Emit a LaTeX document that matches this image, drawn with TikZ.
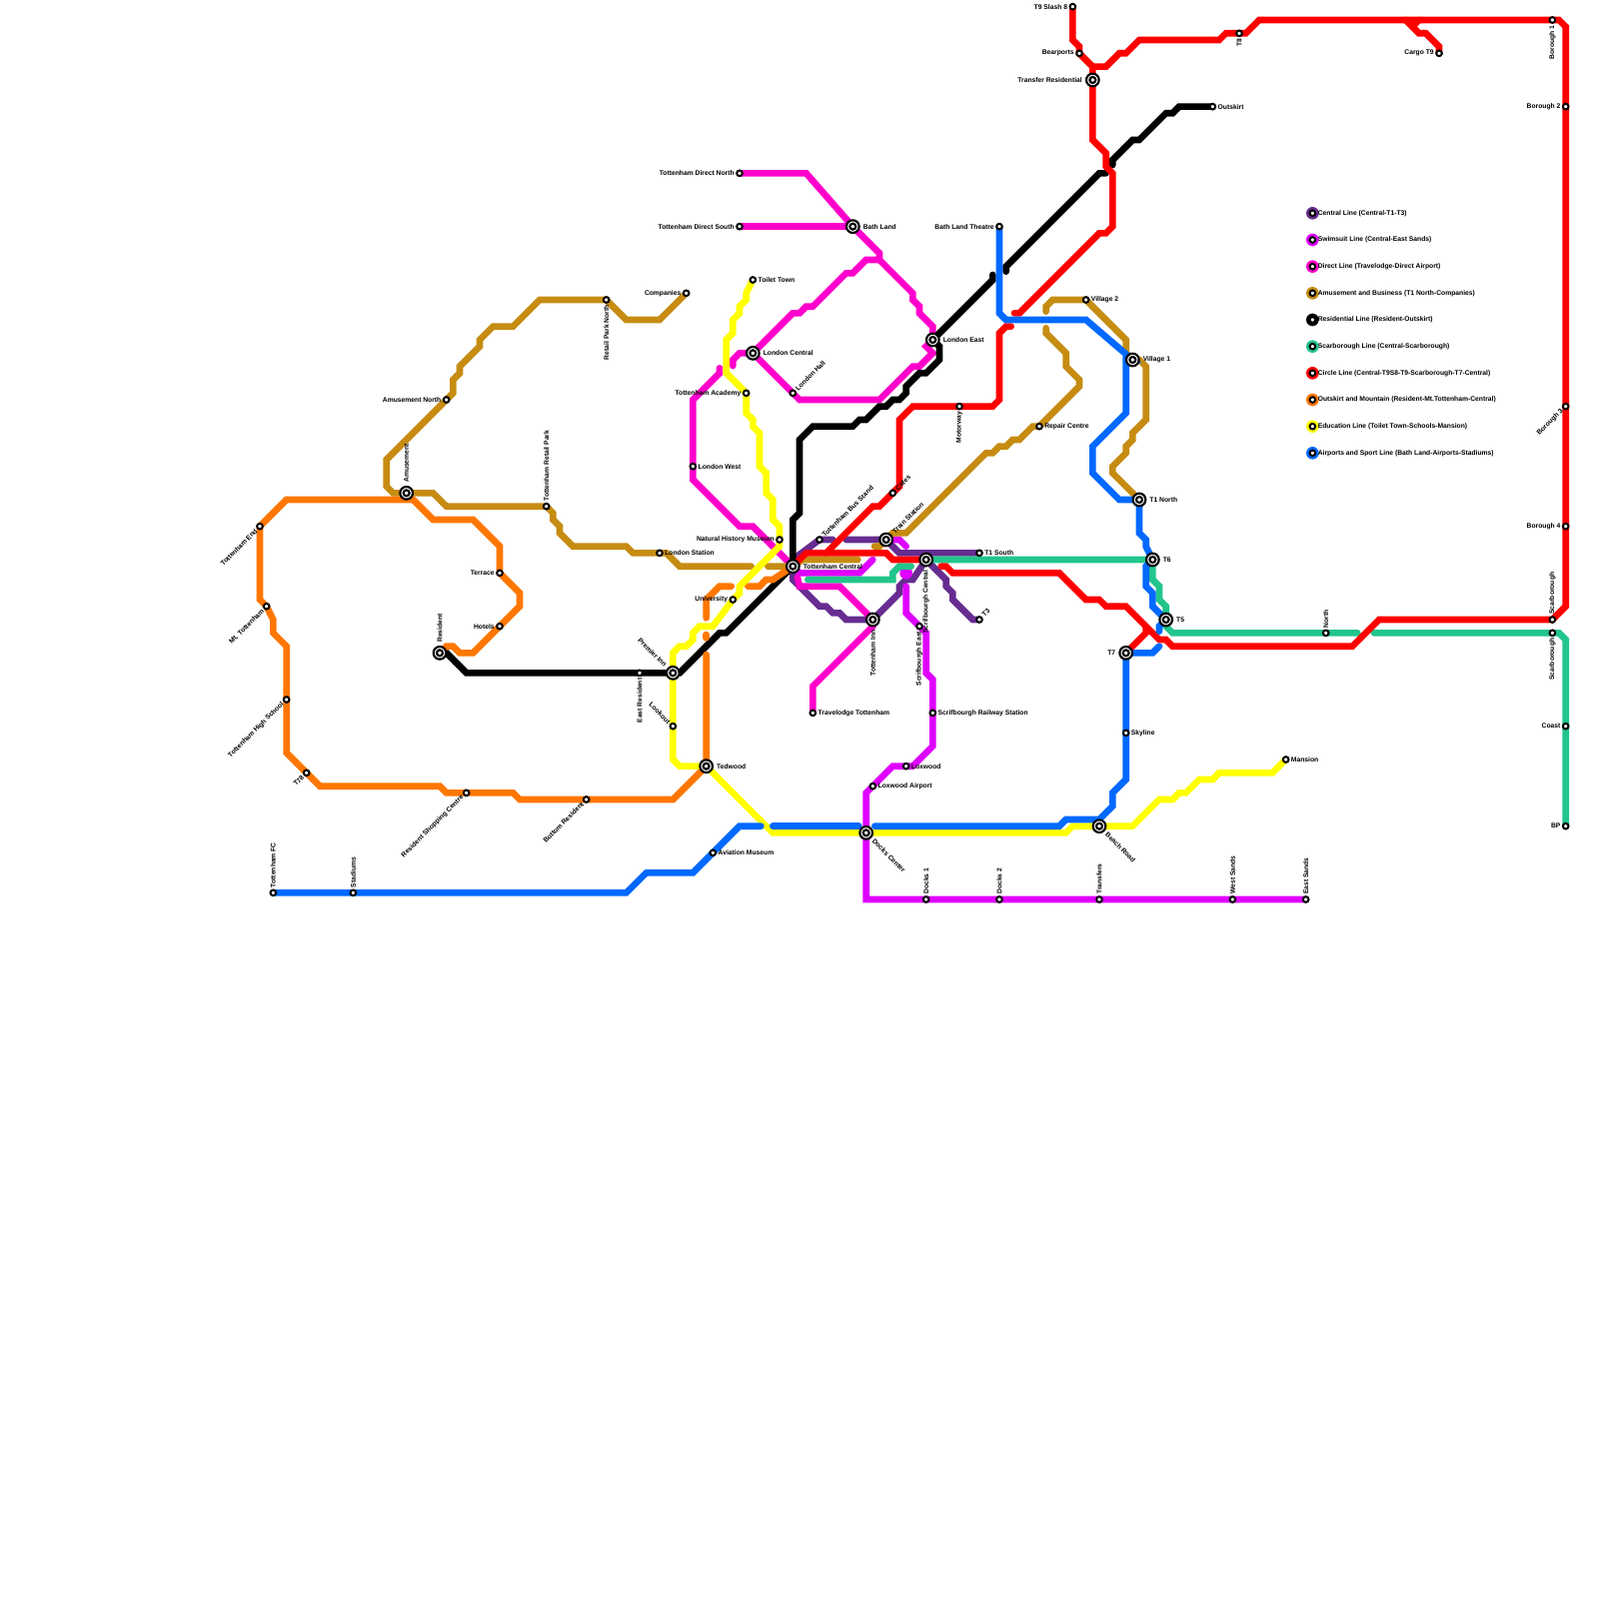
\documentclass[tikz,border=0pt]{standalone}
\usepackage{fontspec}
\setmainfont{Liberation Sans}
\usetikzlibrary{backgrounds}
\definecolor{mcentral}{HTML}{662C90}
\definecolor{mswim}{HTML}{DF00FF}
\definecolor{mdirect}{HTML}{FF00CC}
\definecolor{mgold}{HTML}{C68C12}
\definecolor{mgreen}{HTML}{22C58B}
\definecolor{mred}{HTML}{FF0000}
\definecolor{morange}{HTML}{FF7700}
\definecolor{myellow}{HTML}{FFFF00}
\definecolor{mblue}{HTML}{0069FF}
\tikzset{
  metro/line/.style={line width=1mm, line cap=round, line join=miter},
  metro/txt/.style={font=\fontsize{2.88}{3.4}\selectfont\bfseries, inner sep=0pt},
  metro/stop/.style={circle, draw=black, fill=white, line width=0.3mm, minimum size=0.85mm, inner sep=0pt, outer sep=0.3mm},
  metro/hub/.style={circle, draw=black, fill=white, line width=0.32mm, minimum size=1.9mm, inner sep=0pt, outer sep=0.55mm,
    path picture={\draw[line width=0.32mm] (path picture bounding box.center) circle (0.45mm);}},
  metro/key/.style={circle, fill=#1, minimum size=1.9mm, inner sep=0pt, outer sep=-0.2mm,
    path picture={\draw[line width=0.3mm, fill=white] (path picture bounding box.center) circle (0.42mm);}},
  metro/r/.style={label={[metro/txt, anchor=west]0:#1}},
  metro/l/.style={label={[metro/txt, anchor=east]180:#1}},
  metro/u/.style={label={[metro/txt, rotate=90, anchor=west]90:#1}},
  metro/d/.style={label={[metro/txt, rotate=90, anchor=east]270:#1}},
  metro/ne/.style={label={[metro/txt, rotate=45, anchor=west]45:#1}},
  metro/sw/.style={label={[metro/txt, rotate=45, anchor=east]225:#1}},
  metro/nw/.style={label={[metro/txt, rotate=-45, anchor=east]135:#1}},
  metro/se/.style={label={[metro/txt, rotate=-45, anchor=west]315:#1}},
  metro/central/.style={metro/line, draw=mcentral},
  metro/swim/.style={metro/line, draw=mswim},
  metro/direct/.style={metro/line, draw=mdirect},
  metro/gold/.style={metro/line, draw=mgold},
  metro/resid/.style={metro/line, draw=black},
  metro/green/.style={metro/line, draw=mgreen},
  metro/red/.style={metro/line, draw=mred},
  metro/orange/.style={metro/line, draw=morange},
  metro/yellow/.style={metro/line, draw=myellow},
  metro/blue/.style={metro/line, draw=mblue}
}
\begin{document}
\begin{tikzpicture}[x=1mm, y=-1mm]
\useasboundingbox (0,0) rectangle (240,240);

\node[metro/hub, metro/r=Tottenham Central] (central) at (119,85) {};
\node[metro/stop, metro/ne=Tottenham Bus Stand] (busstand) at (123,81) {};
\node[metro/hub, metro/ne=Train Station] (train) at (133,81) {};
\node[metro/hub, metro/d=Scrifbourgh Central] (scrifcentral) at (139,84) {};
\node[metro/stop, metro/r=T1 South] (tonesouth) at (147,83) {};
\node[metro/stop, metro/ne=T3] (tthree) at (147,93) {};
\node[metro/hub, metro/d=Tottenham Inn] (tottinn) at (131,93) {};
\node[metro/stop, metro/d=Scrifbourgh East] (scrifeast) at (138,94) {};
\node[metro/stop, metro/r=Scrifbourgh Railway Station] (scrifrail) at (140,107) {};
\node[metro/stop, metro/r=Travelodge Tottenham] (travelodge) at (122,107) {};
\node[metro/stop, metro/r=Loxwood] (loxwood) at (136,115) {};
\node[metro/stop, metro/r=Loxwood Airport] (loxair) at (131,118) {};
\node[metro/hub, metro/r=Tedwood] (tedwood) at (106,115) {};
\node[metro/hub, metro/nw=Premier Inn] (premier) at (101,101) {};
\node[metro/stop, metro/d=East Resident] (eastres) at (96,101) {};
\node[metro/stop, metro/nw=Lookout] (lookout) at (101,109) {};
\node[metro/stop, metro/l=University] (university) at (110,90) {};
\node[metro/stop, metro/l=Natural History Museum] (nhm) at (117,81) {};
\node[metro/stop, metro/r=London Station] (londonst) at (99,83) {};
\node[metro/stop, metro/r=London West] (londonwest) at (104,70) {};
\node[metro/stop, metro/ne=Cafes] (cafes) at (134,74) {};
\node[metro/stop, metro/l=Tottenham Direct North] (dirnorth) at (111,26) {};
\node[metro/stop, metro/l=Tottenham Direct South] (dirsouth) at (111,34) {};
\node[metro/hub, metro/r=Bath Land] (bathland) at (128,34) {};
\node[metro/stop, metro/r=Toilet Town] (toilet) at (113,42) {};
\node[metro/stop, metro/l=Companies] (companies) at (103,44) {};
\node[metro/hub, metro/r=London Central] (londoncen) at (113,53) {};
\node[metro/hub, metro/r=London East] (londoneast) at (140,51) {};
\node[metro/stop, metro/ne=London Hall] (londonhall) at (119,59) {};
\node[metro/stop, metro/l=Tottenham Academy] (academy) at (112,59) {};
\node[metro/stop, metro/d=Motorway] (motorway) at (144,61) {};
\node[metro/stop, metro/l=Bath Land Theatre] (theatre) at (150,34) {};
\node[metro/stop, metro/l=T9 Slash 8] (tnine) at (161,1) {};
\node[metro/stop, metro/l=Bearports] (bearports) at (162,8) {};
\node[metro/hub, metro/l=Transfer Residential] (transfer) at (164,12) {};
\node[metro/stop, metro/d=T8] (teight) at (186,5) {};
\node[metro/stop, metro/r=Outskirt] (outskirt) at (182,16) {};
\node[metro/stop, metro/r=Village 2] (villagetwo) at (163,45) {};
\node[metro/hub, metro/r=Village 1] (villageone) at (170,54) {};
\node[metro/stop, metro/r=Repair Centre] (repair) at (156,64) {};
\node[metro/hub, metro/r=T1 North] (tonenorth) at (171,75) {};
\node[metro/hub, metro/r=T6] (tsix) at (173,84) {};
\node[metro/hub, metro/r=T5] (tfive) at (175,93) {};
\node[metro/hub, metro/l=T7] (tseven) at (169,98) {};
\node[metro/stop, metro/d=Retail Park North] (parknorth) at (91,45) {};
\node[metro/stop, metro/l=Amusement North] (amusenorth) at (67,60) {};
\node[metro/hub, metro/u=Amusement] (amusement) at (61,74) {};
\node[metro/stop, metro/u=Tottenham Retail Park] (retailpark) at (82,76) {};
\node[metro/stop, metro/sw=Tottenham End] (tottend) at (39,79) {};
\node[metro/stop, metro/sw=Mt. Tottenham] (mttott) at (40,91) {};
\node[metro/stop, metro/l=Terrace] (terrace) at (75,86) {};
\node[metro/stop, metro/l=Hotels] (hotels) at (75,94) {};
\node[metro/hub, metro/u=Resident] (resident) at (66,98) {};
\node[metro/stop, metro/sw=Tottenham High School] (highschool) at (43,105) {};
\node[metro/stop, metro/sw=T78] (tseventy) at (46,116) {};
\node[metro/stop, metro/sw=Resident Shopping Centre] (shopping) at (70,119) {};
\node[metro/stop, metro/sw=Bottom Resident] (bottomres) at (88,120) {};
\node[metro/stop, metro/u=Tottenham FC] (tottfc) at (41,134) {};
\node[metro/stop, metro/u=Stadiums] (stadiums) at (53,134) {};
\node[metro/stop, metro/r=Aviation Museum] (aviation) at (107,128) {};
\node[metro/hub, metro/se=Docks Center] (docks) at (130,125) {};
\node[metro/hub, metro/se=Beach Road] (beach) at (165,124) {};
\node[metro/stop, metro/u=Docks 1] (docksone) at (139,135) {};
\node[metro/stop, metro/u=Docks 2] (dockstwo) at (150,135) {};
\node[metro/stop, metro/u=Transfers] (transfers) at (165,135) {};
\node[metro/stop, metro/u=West Sands] (westsands) at (185,135) {};
\node[metro/stop, metro/u=East Sands] (eastsands) at (196,135) {};
\node[metro/stop, metro/r=Skyline] (skyline) at (169,110) {};
\node[metro/stop, metro/r=Mansion] (mansion) at (193,114) {};
\node[metro/stop, metro/l=Cargo T9] (cargo) at (216,8) {};
\node[metro/stop, metro/d=Borough 1] (boroughone) at (233,3) {};
\node[metro/stop, metro/l=Borough 2] (boroughtwo) at (235,16) {};
\node[metro/stop, metro/sw=Borough 3] (boroughthree) at (235,61) {};
\node[metro/stop, metro/l=Borough 4] (boroughfour) at (235,79) {};
\node[metro/stop, metro/u=Scarborough] (scarbup) at (233,93) {};
\node[metro/stop, metro/d=Scarborough] (scarbdown) at (233,95) {};
\node[metro/stop, metro/u=North] (north) at (199,95) {};
\node[metro/stop, metro/l=Coast] (coast) at (235,109) {};
\node[metro/stop, metro/l=BP] (bp) at (235,124) {};

\node[metro/key=mcentral, metro/r=Central Line (Central-T1-T3)] (keycentral) at (197,32) {};
\node[metro/key=mswim, metro/r=Swimsuit Line (Central-East Sands)] (keyswim) at (197,36) {};
\node[metro/key=mdirect, metro/r=Direct Line (Travelodge-Direct Airport)] (keydirect) at (197,40) {};
\node[metro/key=mgold, metro/r=Amusement and Business (T1 North-Companies)] (keygold) at (197,44) {};
\node[metro/key=black, metro/r=Residential Line (Resident-Outskirt)] (keyresid) at (197,48) {};
\node[metro/key=mgreen, metro/r=Scarborough Line (Central-Scarborough)] (keygreen) at (197,52) {};
\node[metro/key=mred, metro/r=Circle Line (Central-T9S8-T9-Scarborough-T7-Central)] (keyred) at (197,56) {};
\node[metro/key=morange, metro/r=Outskirt and Mountain (Resident-Mt.Tottenham-Central)] (keyorange) at (197,60) {};
\node[metro/key=myellow, metro/r=Education Line (Toilet Town-Schools-Mansion)] (keyyellow) at (197,64) {};
\node[metro/key=mblue, metro/r=Airports and Sport Line (Bath Land-Airports-Stadiums)] (keyblue) at (197,68) {};

\coordinate (cengapa) at (125,81);
\coordinate (cengapb) at (127,81);
\coordinate (swimend) at (131,84);
\coordinate (swimgapa) at (136,82);
\coordinate (swimgapb) at (136,88);
\coordinate (dirgapa) at (108,55.25);
\coordinate (dirgapb) at (110,54.9);
\coordinate (dirgapc) at (119.7,86.7);
\coordinate (dirjunc) at (132,39);
\coordinate (goldgapa) at (131.25,82);
\coordinate (goldgapb) at (128.75,84);
\coordinate (goldgapc) at (115.25,85);
\coordinate (goldgapd) at (112.75,85);
\coordinate (goldgape) at (157,46.75);
\coordinate (goldgapf) at (157,49.25);
\coordinate (blackgapa) at (149,41.25);
\coordinate (blackgapb) at (151,40.75);
\coordinate (blackgapc) at (166,26);
\coordinate (blackgapd) at (167,24.75);
\coordinate (greengapa) at (121.25,87);
\coordinate (greengapb) at (136.75,85);
\coordinate (greengapc) at (203.75,95);
\coordinate (greengapd) at (206.25,95);
\coordinate (redgapa) at (141.25,85);
\coordinate (redgapb) at (152.25,47);
\coordinate (redgapc) at (151.75,49);
\coordinate (redjunca) at (164,10);
\coordinate (redjuncb) at (124,83);
\coordinate (redjuncc) at (172,94);
\coordinate (redjuncd) at (211,3);
\coordinate (redjunce) at (213,3);
\coordinate (redstub) at (212,4);
\coordinate (orgapa) at (112.25,88);
\coordinate (orgapb) at (109.75,88);
\coordinate (orgapc) at (106,92.75);
\coordinate (orgapd) at (106,95.25);
\coordinate (orgape) at (106,95.75);
\coordinate (orgapf) at (106,98.25);
\coordinate (bluegapa) at (174,94.75);
\coordinate (bluegapb) at (174,97);
\coordinate (bluegapc) at (131.3,124);
\coordinate (bluegapd) at (128.9,124);
\coordinate (bluegape) at (116,124);
\coordinate (bluegapf) at (114.2,124);

\begin{scope}[on background layer]
\draw[metro/central] (central.center) -- (119,84) -- (busstand.center) -- (cengapa);
\draw[metro/central] (cengapb) -- (train.center) -- (134,82) -- (135,83) -- (tonesouth.center);
\draw[metro/central] (scrifcentral.center) -- (140,85) -- (142,87) -- (142,88) -- (143,89) -- (143,90) -- (146,93) -- (tthree.center);
\draw[metro/central] (central.center) -- (119,87) -- (123,91) -- (124,91) -- (125,92) -- (126,92) -- (127,93) -- (tottinn.center) -- (135,89) -- (135,88) -- (136,87) -- (137,87) -- (scrifcentral.center);

\draw[metro/swim] (central.center) -- (120,86) -- (129,86) -- (swimend);
\draw[metro/swim] (train.center) -- (135,81) -- (swimgapa);
\fill[mswim] (136,86) circle (0.95);
\draw[metro/swim] (swimgapb) -- (136,92) -- (scrifeast.center) -- (139,95) -- (139,101) -- (140,102) -- (scrifrail.center) -- (140,112) -- (137,115) -- (loxwood.center) -- (134,115) -- (loxair.center) -- (130,119) -- (docks.center) -- (130,135) -- (docksone.center) -- (dockstwo.center) -- (transfers.center) -- (westsands.center) -- (eastsands.center);

\draw[metro/direct] (travelodge.center) -- (122,103) -- (131,94) -- (tottinn.center) -- (126,88) -- (120,88) -- (dirgapc);
\draw[metro/direct] (central.center) -- (113,79) -- (111,79) -- (104,72) -- (104,60) -- (108,56) -- (dirgapa);
\draw[metro/direct] (dirgapb) -- (110,54) -- (111,53) -- (londoncen.center) -- (119,47) -- (120,47) -- (121,46) -- (122,46) -- (127,41) -- (128,41) -- (130,39) -- (dirjunc) -- (132,38) -- (bathland.center) -- (121,26) -- (dirnorth.center);
\draw[metro/direct] (bathland.center) -- (dirsouth.center);
\draw[metro/direct] (dirjunc) -- (137,44) -- (137,45) -- (138,46) -- (138,47) -- (140,49) -- (londoneast.center) -- (139,52) -- (140,53) -- (138,55) -- (137,55) -- (132,60) -- (120,60) -- (londonhall.center) -- (londoncen.center);

\draw[metro/gold] (tonenorth.center) -- (167,71) -- (167,70) -- (169,68) -- (169,67) -- (170,66) -- (170,65) -- (172,63) -- (172,55) -- (171,54) -- (villageone.center) -- (169,53) -- (169,51) -- (villagetwo.center) -- (158,45) -- (157,46) -- (goldgape);
\draw[metro/gold] (goldgapf) -- (157,50) -- (160,53) -- (160,55) -- (162,57) -- (162,58) -- (156,64) -- (155,64) -- (153,66) -- (152,66) -- (151,67) -- (150,67) -- (149,68) -- (148,68) -- (136,80) -- (134,80) -- (train.center) -- (132,82) -- (goldgapa);
\draw[metro/gold] (goldgapb) -- (120.5,84) -- (central.center) -- (118,85) -- (goldgapc);
\draw[metro/gold] (goldgapd) -- (102,85) -- (100,83) -- (londonst.center) -- (95,83) -- (94,82) -- (86,82) -- (84,80) -- (84,79) -- (83,78) -- (83,77) -- (retailpark.center) -- (67,76) -- (65,74) -- (amusement.center) -- (59,74) -- (58,73) -- (58,69) -- (amusenorth.center) -- (68,59) -- (68,57) -- (69,56) -- (69,55) -- (72,52) -- (72,51) -- (74,49) -- (77,49) -- (81,45) -- (parknorth.center) -- (94,48) -- (99,48) -- (companies.center);

\draw[metro/resid] (resident.center) -- (67,98) -- (70,101) -- (eastres.center) -- (premier.center) -- (102,101) -- (108,95) -- (109,95) -- (central.center) -- (119,78) -- (120,77) -- (120,66) -- (122,64) -- (128,64) -- (129,63) -- (130,63) -- (132,61) -- (133,61) -- (134,60) -- (135,60) -- (136,59) -- (136,58) -- (138,56) -- (139,56) -- (141,54) -- (141,52) -- (londoneast.center) -- (149,42) -- (blackgapa);
\draw[metro/resid] (blackgapb) -- (151,40) -- (165,26) -- (blackgapc);
\draw[metro/resid] (blackgapd) -- (167,24) -- (170,21) -- (171,21) -- (175,17) -- (176,17) -- (177,16) -- (outskirt.center);

\draw[metro/green] (greengapa) -- (134,87) -- (134,86) -- (135,85) -- (greengapb);
\draw[metro/green] (scrifcentral.center) -- (tsix.center) -- (173,87) -- (174,88) -- (174,90) -- (175,91) -- (tfive.center) -- (175,94) -- (176,95) -- (north.center) -- (greengapc);
\draw[metro/green] (greengapd) -- (scarbdown.center) -- (234,95) -- (235,96) -- (coast.center) -- (bp.center);

\draw[metro/red] (central.center) -- (121,83) -- (133,83) -- (134,84) -- (scrifcentral.center);
\draw[metro/red] (redgapa) -- (142,85) -- (143,86) -- (159,86) -- (163,90) -- (165,90) -- (166,91) -- (169,91) -- (174,96) -- (175,96) -- (176,97) -- (203,97) -- (207,93) -- (scarbup.center) -- (235,91) -- (boroughfour.center) -- (boroughthree.center) -- (boroughtwo.center) -- (235,4) -- (234,3) -- (boroughone.center) -- (189,3) -- (187,5) -- (teight.center) -- (184,5) -- (183,6) -- (171,6) -- (169,8) -- (168,8) -- (166,10) -- (redjunca) -- (bearports.center) -- (162,7) -- (161,6) -- (tnine.center);
\draw[metro/red] (redjunca) -- (transfer.center) -- (164,21) -- (166,23) -- (166,25) -- (167,26) -- (167,34) -- (166,35) -- (165,35) -- (153,47) -- (redgapb);
\draw[metro/red] (redgapc) -- (151,49) -- (150,50) -- (150,60) -- (149,61) -- (motorway.center) -- (137,61) -- (135,63) -- (135,73) -- (cafes.center) -- (132,76) -- (131,76) -- (redjuncb);
\draw[metro/red] (tseven.center) -- (172,95) -- (redjuncc);
\draw[metro/red] (cargo.center) -- (216,7) -- (214,5) -- (213,5) -- (redjuncd);
\draw[metro/red] (redjunce) -- (redstub);

\draw[metro/orange] (central.center) -- (116,87) -- (115,87) -- (114,88) -- (orgapa);
\draw[metro/orange] (orgapb) -- (108,88) -- (106,90) -- (orgapc);
\draw[metro/orange] (orgapd) -- (orgape);
\draw[metro/orange] (orgapf) -- (tedwood.center) -- (101,120) -- (bottomres.center) -- (78,120) -- (77,119) -- (shopping.center) -- (67,119) -- (66,118) -- (48,118) -- (tseventy.center) -- (43,113) -- (highschool.center) -- (43,97) -- (41,95) -- (41,93) -- (mttott.center) -- (39,90) -- (tottend.center) -- (43,75) -- (62,75) -- (65,78) -- (71,78) -- (75,82) -- (terrace.center) -- (78,89) -- (78,91) -- (hotels.center) -- (71,98) -- (69,98) -- (68,97) -- (67,97) -- (resident.center);

\draw[metro/yellow] (toilet.center) -- (112,44) -- (112,45) -- (111,46) -- (111,47) -- (110,48) -- (110,50) -- (109,51) -- (109,56) -- (academy.center) -- (112,62) -- (113,63) -- (113,64) -- (114,65) -- (114,70) -- (115,71) -- (115,74) -- (116,75) -- (116,78) -- (117,79) -- (nhm.center) -- (117,82) -- (111,88) -- (111,89) -- (university.center) -- (107,94) -- (105,94) -- (104,95) -- (104,96) -- (103,97) -- (102,97) -- (101,98) -- (premier.center) -- (lookout.center) -- (101,114) -- (102,115) -- (tedwood.center) -- (116,125) -- (docks.center) -- (160,125) -- (161,124) -- (beach.center) -- (170,124) -- (174,120) -- (176,120) -- (177,119) -- (178,119) -- (180,117) -- (182,117) -- (183,116) -- (191,116) -- (mansion.center);

\draw[metro/blue] (theatre.center) -- (150,47) -- (151,48) -- (163,48) -- (villageone.center) -- (169,54) -- (169,62) -- (164,67) -- (164,71) -- (168,75) -- (tonenorth.center) -- (171,80) -- (172,81) -- (172,82) -- (tsix.center) -- (172,85) -- (172,88) -- (173,89) -- (173,91) -- (tfive.center) -- (174,94) -- (bluegapa);
\draw[metro/blue] (bluegapb) -- (173,98) -- (tseven.center) -- (skyline.center) -- (169,117) -- (167,119) -- (167,121) -- (165,123) -- (160,123) -- (159,124) -- (bluegapc);
\draw[metro/blue] (bluegapd) -- (bluegape);
\draw[metro/blue] (bluegapf) -- (111,124) -- (aviation.center) -- (104,131) -- (97,131) -- (94,134) -- (stadiums.center) -- (tottfc.center);
\end{scope}
\end{tikzpicture}
\end{document}
